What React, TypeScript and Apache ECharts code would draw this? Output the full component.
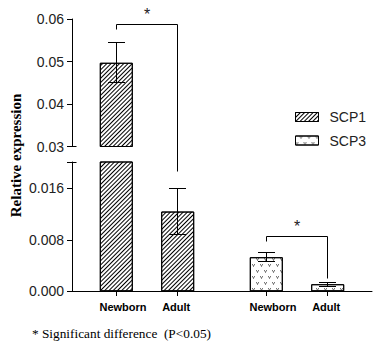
import React, { useEffect, useRef } from 'react';
import * as echarts from 'echarts';

// ---- data ----
const genes = ['SCP1', 'SCP3'];
const ages = ['Newborn', 'Adult'];
const newbornMean = [0.0497, 0.0053];
const adultMean = [0.0124, 0.0011];
const newbornErr = [0.0047, 0.0007];
const adultErr = [0.0036, 0.0003];
const upperRange = [0.03, 0.06];
const upperInterval = 0.01;
const lowerRange = [0, 0.0201];
const lowerInterval = 0.008;
// significance brackets (per gene): bracket line level, left leg end, right leg end
const sigTop = [0.0588, 0.00848];
const sigLeftEnd = [0.0576, 0.0077];
const sigRightEnd = [0.0186, 0.00202];
const yTitle = 'Relative expression';
const footnote = '* Significant difference  (P<0.05)';

// ---- layout / style ----
const W = 386;
const H = 353;
const GRID_LEFT = 72;
const GRID_W = 300;
const UP_TOP = 19;
const UP_H = 127.5;
const LO_TOP = 162;
const LO_H = 129.3;
const BAR_W = 33;
const BAR_GAP_PX = 28.4;
const HALF = (BAR_W + BAR_GAP_PX) / 2;
const CAP = 8.5;
const SANS = '"Liberation Sans", Arial, sans-serif';
const SERIF = '"Liberation Serif", "Times New Roman", serif';
const LABEL_SHIFT = [6.5, -1.3];

const hatchDecal = {
  symbol: 'rect',
  symbolSize: 1,
  color: '#000',
  backgroundColor: '#fff',
  dashArrayX: [1, 0],
  dashArrayY: [1, 2],
  rotation: -Math.PI / 4,
};
const vDecal = {
  symbol: 'path://M0,0L1.3,0L3,3.4L4.7,0L6,0L3,5Z',
  symbolSize: 1,
  symbolKeepAspect: false,
  color: '#222',
  backgroundColor: '#fff',
  dashArrayX: [[3, 5], [0, 4, 3, 1]],
  dashArrayY: [2.2, 2.3],
  rotation: 0,
};
const decals = [hatchDecal, vDecal];
const means = [newbornMean, adultMean];
const errs = [newbornErr, adultErr];

const crisp = (v: number) => Math.floor(v) + 0.5;

const barSeries = (grid: number, a: number) => ({
  type: 'bar',
  name: ages[a],
  xAxisIndex: grid,
  yAxisIndex: grid,
  barWidth: BAR_W,
  barGap: (BAR_GAP_PX / BAR_W) * 100 + '%',
  z: 2,
  data: genes.map((g, i) => ({
    value: means[a][i],
    itemStyle: { color: '#fff', borderColor: '#000', borderWidth: 1, decal: decals[i] },
  })),
});

const errorRender = (params: any, api: any) => {
  const gi = api.value(0);
  const m = api.value(1);
  const e = api.value(2);
  const a = api.value(3);
  const cx = crisp(api.coord([gi, m])[0] + (a === 0 ? -HALF : HALF));
  const yt = crisp(api.coord([gi, m + e])[1]);
  const yb = crisp(api.coord([gi, m - e])[1]);
  const st = { stroke: '#000', lineWidth: 1 };
  return {
    type: 'group',
    children: [
      { type: 'line', shape: { x1: cx, y1: yt, x2: cx, y2: yb }, style: st },
      { type: 'line', shape: { x1: cx - CAP, y1: yt, x2: cx + CAP, y2: yt }, style: st },
      { type: 'line', shape: { x1: cx - CAP, y1: yb, x2: cx + CAP, y2: yb }, style: st },
    ],
  };
};

const errorData: number[][] = [];
genes.forEach((g, i) => ages.forEach((ag, a) => errorData.push([i, means[a][i], errs[a][i], a])));

const errorSeries = (grid: number) => ({
  type: 'custom',
  xAxisIndex: grid,
  yAxisIndex: grid,
  clip: true,
  z: 5,
  renderItem: errorRender,
  encode: { x: 0, y: 1 },
  data: errorData,
});

const tickData: number[][] = [];
genes.forEach((g, i) => ages.forEach((ag, a) => tickData.push([i, 0, a])));

const tickSeries = {
  type: 'custom',
  xAxisIndex: 1,
  yAxisIndex: 1,
  clip: false,
  z: 5,
  encode: { x: 0, y: 1 },
  data: tickData,
  renderItem: (params: any, api: any) => {
    const gi = api.value(0);
    const a = api.value(2);
    const p = api.coord([gi, 0]);
    const cx = crisp(p[0] + (a === 0 ? -HALF : HALF));
    const y0 = Math.round(p[1]);
    return {
      type: 'group',
      children: [
        { type: 'line', shape: { x1: cx, y1: y0, x2: cx, y2: y0 + 5 }, style: { stroke: '#000', lineWidth: 1 } },
        {
          type: 'text',
          x: cx + LABEL_SHIFT[a],
          y: y0 + 10,
          style: {
            text: ages[a],
            font: 'bold 11px ' + SANS,
            fill: '#000',
            align: 'center',
            verticalAlign: 'top',
          },
        },
      ],
    };
  },
};

const isMultiple = (v: number, step: number) => Math.abs(v / step - Math.round(v / step)) < 1e-6;

const yAxisCommon = {
  type: 'value',
  axisLine: { show: true, lineStyle: { color: '#000', width: 1 } },
  axisTick: { show: true, length: 5, lineStyle: { color: '#000', width: 1 } },
  splitLine: { show: false },
};

export default function App() {
  const ref = useRef<HTMLDivElement>(null);
  useEffect(() => {
    if (!ref.current) return;
    const chart = echarts.init(ref.current, undefined, { renderer: 'svg', width: W, height: H });
    const option: any = {
      animation: false,
      backgroundColor: '#fff',
      grid: [
        { left: GRID_LEFT, top: UP_TOP, width: GRID_W, height: UP_H },
        { left: GRID_LEFT, top: LO_TOP, width: GRID_W, height: LO_H },
        { left: -60, top: -60, width: 10, height: 10 },
      ],
      xAxis: [0, 1, 2].map((i) => ({
        type: 'category',
        gridIndex: i,
        data: genes,
        show: i === 1,
        axisLine: { show: true, lineStyle: { color: '#000', width: 1 } },
        axisTick: { show: false },
        axisLabel: { show: false },
      })),
      yAxis: [
        {
          ...yAxisCommon,
          gridIndex: 0,
          min: upperRange[0],
          max: upperRange[1],
          interval: upperInterval,
          axisLabel: {
            margin: 8,
            fontSize: 14,
            fontFamily: SANS,
            color: '#222',
            formatter: (v: number) => (isMultiple(v, upperInterval) ? v.toFixed(2) : ''),
          },
        },
        {
          ...yAxisCommon,
          gridIndex: 1,
          min: lowerRange[0],
          max: lowerRange[1],
          interval: lowerInterval,
          axisLabel: {
            margin: 8,
            fontSize: 14,
            fontFamily: SANS,
            color: '#222',
            formatter: (v: number) => (isMultiple(v, lowerInterval) ? v.toFixed(3) : ''),
          },
        },
        { type: 'value', gridIndex: 2, show: false },
      ],
      legend: {
        orient: 'vertical',
        left: 295,
        top: 110,
        padding: 0,
        itemWidth: 23,
        itemHeight: 9,
        itemGap: 9.5,
        icon: 'rect',
        selectedMode: false,
        data: genes,
        itemStyle: { borderColor: '#000', borderWidth: 1 },
        textStyle: { fontSize: 14, fontFamily: SANS, color: '#222', padding: [0, 0, 0, 6] },
      },
      series: [
        barSeries(0, 0),
        barSeries(0, 1),
        barSeries(1, 0),
        barSeries(1, 1),
        errorSeries(0),
        errorSeries(1),
        tickSeries,
        ...genes.map((g, i) => ({
          type: 'bar',
          name: g,
          xAxisIndex: 2,
          yAxisIndex: 2,
          data: [],
          itemStyle: { color: '#fff', borderColor: '#000', borderWidth: 1, decal: decals[i] },
        })),
      ],
    };
    chart.setOption(option);

    const px = (gi: number, v: number) => {
      const grid = v >= upperRange[0] ? 0 : 1;
      return chart.convertToPixel({ xAxisIndex: grid, yAxisIndex: grid }, [gi, v]) as number[];
    };
    const graphics: any[] = [];
    const st = { stroke: '#000', lineWidth: 1, fill: null };
    genes.forEach((g, i) => {
      const c = px(i, sigTop[i]);
      const xl = crisp(c[0] - HALF);
      const xr = crisp(c[0] + HALF);
      const yTop = crisp(c[1]);
      const yL = crisp(px(i, sigLeftEnd[i])[1]);
      const yR = crisp(px(i, sigRightEnd[i])[1]);
      graphics.push({
        type: 'polyline',
        shape: { points: [[xl, yL], [xl, yTop], [xr, yTop], [xr, yR]] },
        style: st,
        z: 10,
      });
      graphics.push({
        type: 'text',
        x: (xl + xr) / 2,
        y: yTop - 10.5,
        style: { text: '*', font: '16px ' + SANS, fill: '#222', align: 'center', verticalAlign: 'middle' },
        z: 10,
      });
    });
    // axis break marks
    const yBreakUp = crisp(px(0, upperRange[0])[1]);
    const yBreakLo = crisp(px(0, lowerRange[1])[1]);
    const ax = GRID_LEFT;
    graphics.push({ type: 'line', shape: { x1: ax - 5, y1: yBreakUp, x2: ax + 4.5, y2: yBreakUp }, style: st, z: 10 });
    graphics.push({ type: 'line', shape: { x1: ax - 3.5, y1: yBreakLo, x2: ax + 4.5, y2: yBreakLo }, style: st, z: 10 });
    graphics.push({
      type: 'text',
      x: 15.5,
      y: 155.5,
      rotation: Math.PI / 2,
      style: { text: yTitle, font: 'bold 15px ' + SERIF, fill: '#000', align: 'center', verticalAlign: 'middle' },
      z: 10,
    });
    graphics.push({
      type: 'text',
      x: 32,
      y: 333,
      style: { text: footnote, font: '13.3px ' + SERIF, fill: '#000', align: 'left', verticalAlign: 'middle' },
      z: 10,
    });
    chart.setOption({ graphic: graphics });

    return () => chart.dispose();
  }, []);
  return <div ref={ref} style={{ position: 'absolute', left: 0, top: 0, width: W, height: H }} />;
}
